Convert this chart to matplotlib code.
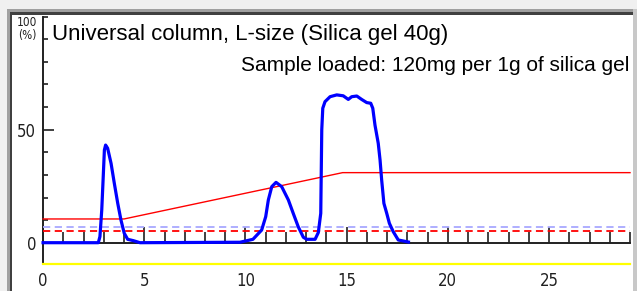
import matplotlib
matplotlib.use('Agg')
import matplotlib.pyplot as plt
from matplotlib.patches import Rectangle
from matplotlib.transforms import IdentityTransform
from matplotlib.ticker import FixedLocator

# chromatogram (UV trace), time in min, signal in %
time_min = [0, 2.73, 2.81, 2.9, 2.98, 3.03, 3.09, 3.19, 3.36, 3.52, 3.69, 3.85,
            4.01, 4.18, 4.46, 4.79, 9.73, 10.37, 10.8, 11.0, 11.13, 11.3, 11.51,
            11.79, 12.12, 12.36, 12.61, 12.86, 13.03, 13.44, 13.6, 13.72, 13.77,
            13.82, 13.93, 14.18, 14.51, 14.83, 15.08, 15.25, 15.5, 15.74, 15.99,
            16.19, 16.29, 16.4, 16.56, 16.65, 16.73, 16.84, 16.98, 17.11, 17.3,
            17.55, 18.05]
signal = [0, 0, 2.7, 14.5, 30.7, 41, 43.2, 41.8, 35.1, 26.3, 17.4, 10,
          4.2, 1.5, 0.9, 0, 0.2, 1.5, 5.6, 11.5, 18.9, 24.8, 26.7,
          24.8, 18.9, 13, 7, 2.4, 1.5, 1.5, 4.5, 13, 50,
          59.5, 62.4, 64.6, 65.4, 65, 63.4, 64.6, 64.9, 63.4, 62,
          61.7, 59.5, 52, 44, 36.6, 27.7, 17.4, 13, 8.6, 4.9,
          1.2, 0.3]

# solvent gradient
grad_time = [0, 4.0, 14.8, 29]
grad_pct = [10.5, 10.5, 31, 31]

# threshold / reference levels
run_end = 29
blue_level = 7
red_level = 5
yellow_level = -9.4

x_major = [0, 5, 10, 15, 20, 25]
x_minor = [i for i in range(1, 30) if i % 5]
y_major = [0, 50]
y_minor = [10, 20, 30, 40, 60, 70, 80, 90, 100]

title = 'Universal column, L-size (Silica gel 40g)'
subtitle = 'Sample loaded: 120mg per 1g of silica gel'

W, H = 637, 291
fig = plt.figure(figsize=(W / 100, H / 100), dpi=100, facecolor='#f0f0f0')

# sunken window frame (pixel coords, origin bottom-left)
fig.add_artist(Rectangle((7, 0), W - 7, H - 9, transform=IdentityTransform(),
                         facecolor='#c8c8c8', edgecolor='none', zorder=0))
fig.add_artist(Rectangle((7, 0), 626, H - 9, transform=IdentityTransform(),
                         facecolor='#a0a0a0', edgecolor='none', zorder=0))
fig.add_artist(Rectangle((10, 0), 623, H - 12, transform=IdentityTransform(),
                         facecolor='#404040', edgecolor='none', zorder=0))

ax = fig.add_axes([12 / W, 0, (633 - 12) / W, (H - 15) / H])
ax.set_facecolor('white')

x0_px, px_per_min = 43.06, 20.24
y0_px, px_per_pct = 242.7, 2.26
ax.set_xlim((12 - x0_px) / px_per_min, (633 - x0_px) / px_per_min)
ax.set_ylim(-(H - y0_px) / px_per_pct, (y0_px - 15) / px_per_pct)

ax.plot(grad_time, grad_pct, color='#ff0000', lw=1.0, zorder=3)
ax.plot([0, run_end], [blue_level, blue_level], color='#a8a8ff', lw=1.3,
        dashes=(4, 2.5), zorder=2)
ax.plot([0, run_end], [red_level, red_level], color='#ff0000', lw=1.3,
        dashes=(4, 2.5), zorder=2)
ax.plot([0, run_end], [yellow_level, yellow_level], color='#ffff00', lw=1.6, zorder=2)
ax.plot(time_min, signal, color='#0000ff', lw=2.3, zorder=4,
        solid_joinstyle='round')

for s in ['top', 'right']:
    ax.spines[s].set_visible(False)
ax.spines['bottom'].set_position(('data', 0))
ax.spines['bottom'].set_bounds(0, run_end)
ax.spines['left'].set_position(('data', 0))
ax.spines['left'].set_bounds(yellow_level, 100)
for s in ['bottom', 'left']:
    ax.spines[s].set_color('#202020')
    ax.spines[s].set_linewidth(1.4)
    ax.spines[s].set_zorder(1)

narrow = ['DejaVu Sans']
ax.xaxis.set_major_locator(FixedLocator(x_major))
ax.xaxis.set_minor_locator(FixedLocator(x_minor))
ax.yaxis.set_major_locator(FixedLocator(y_major))
ax.yaxis.set_minor_locator(FixedLocator(y_minor))
ax.tick_params(axis='x', which='major', direction='in', length=11.5, width=1.2,
               color='#202020', pad=21)
ax.tick_params(axis='x', which='minor', direction='in', length=8, width=1.2,
               color='#202020')
ax.tick_params(axis='y', which='major', direction='in', length=8, width=1.2,
               color='#202020', pad=5)
ax.tick_params(axis='y', which='minor', direction='in', length=3.6, width=1.2,
               color='#202020')
for lab in ax.get_xticklabels() + ax.get_yticklabels():
    lab.set_family(narrow)
    lab.set_stretch('condensed')
    lab.set_fontsize(12)
    lab.set_color('#202020')

def px_fig(x, y):
    return x / W, 1 - y / H

fig.text(*px_fig(27, 22.5), '100', family=narrow, stretch='condensed',
         fontsize=8.5, ha='center', va='center', color='#202020')
fig.text(*px_fig(27, 35), '(%)', family=narrow, stretch='condensed',
         fontsize=8.5, ha='center', va='center', color='#202020')
fig.text(*px_fig(52, 40.5), title, family='Liberation Sans', fontsize=16,
         ha='left', va='baseline', color='black')
fig.text(*px_fig(629, 71), subtitle, family='Liberation Sans', fontsize=15,
         ha='right', va='baseline', color='black')

fig.savefig('out.png', dpi=100, facecolor=fig.get_facecolor())
